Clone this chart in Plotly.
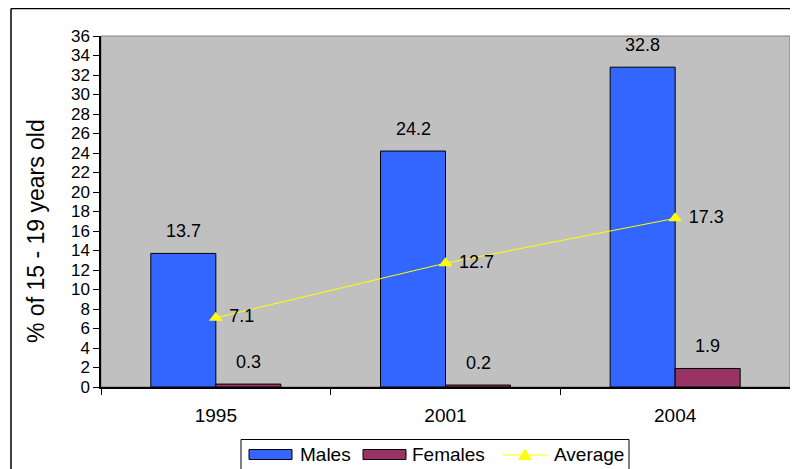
import plotly.graph_objects as go

years = ["1995", "2001", "2004"]
males = [13.7, 24.2, 32.8]
females = [0.3, 0.2, 1.9]
average = [7.1, 12.7, 17.3]
y_ticks = list(range(0, 37, 2))
legend_names = ["Males", "Females", "Average"]

FONT = "Liberation Sans, Arial, sans-serif"
C_MALE, C_FEMALE, C_AVG = "#3366FF", "#993366", "#FFFF00"

# page-pixel -> paper helpers (figure starts 8px into the page)
L, T, PW, PH = 93, 28, 689, 351
def px(x):
    return (x - 8 - L) / PW
def py(y):
    return (T + PH - (y - 8)) / PH

fig = go.Figure()
fig.add_trace(go.Bar(
    name=legend_names[0], x=years, y=males,
    marker=dict(color=C_MALE, line=dict(color="#000000", width=1)),
))
fig.add_trace(go.Bar(
    name=legend_names[1], x=years, y=females,
    marker=dict(color=C_FEMALE, line=dict(color="#000000", width=1)),
))
fig.add_trace(go.Scatter(
    name=legend_names[2], x=years, y=average, mode="lines+markers+text",
    line=dict(color=C_AVG, width=1),
    marker=dict(symbol="triangle-up", size=12, color=C_AVG),
    text=[f" {v}" for v in average], textposition="middle right",
    textfont=dict(size=18, color="#000000", family=FONT), cliponaxis=False,
))

annotations = []
for series, shift in ((males, -32.5), (females, 32.5)):
    for i, v in enumerate(series):
        annotations.append(dict(x=i, y=v, xref="x", yref="y", text=f"{v}",
                                showarrow=False, xshift=shift, yshift=10,
                                xanchor="center", yanchor="bottom",
                                font=dict(size=18, family=FONT, color="#000000")))
annotations.append(dict(text="% of 15 - 19 years old", xref="paper", yref="paper",
                        x=px(36), y=py(231), xanchor="center", yanchor="middle",
                        textangle=-90, showarrow=False,
                        font=dict(size=23, family=FONT, color="#000000")))
# custom legend texts
for name, xl in zip(legend_names, (298, 410, 552)):
    annotations.append(dict(text=name, xref="paper", yref="paper", x=px(xl), y=py(454),
                            xanchor="left", yanchor="middle", showarrow=False,
                            font=dict(size=19, family=FONT, color="#000000")))

shapes = [
    dict(type="rect", xref="paper", yref="paper", x0=0, x1=1, y0=0, y1=1,
         line=dict(color="#808080", width=1), fillcolor="rgba(0,0,0,0)", layer="below"),
    dict(type="line", xref="paper", yref="paper", x0=px(11), x1=1.02, y0=py(8.5), y1=py(8.5),
         line=dict(color="#000000", width=1.5)),
    dict(type="line", xref="paper", yref="paper", x0=px(11), x1=px(11), y0=py(8.5), y1=py(480),
         line=dict(color="#000000", width=1.5)),
    # legend box
    dict(type="rect", xref="paper", yref="paper", x0=px(241), x1=px(629), y0=py(439.5), y1=py(490),
         line=dict(color="#000000", width=1), fillcolor="#FFFFFF"),
    dict(type="rect", xref="paper", yref="paper", x0=px(249), x1=px(292), y0=py(449.5), y1=py(459.5),
         line=dict(color="#000000", width=1), fillcolor=C_MALE),
    dict(type="rect", xref="paper", yref="paper", x0=px(363), x1=px(406), y0=py(449.5), y1=py(459.5),
         line=dict(color="#000000", width=1), fillcolor=C_FEMALE),
    dict(type="line", xref="paper", yref="paper", x0=px(503), x1=px(548), y0=py(455), y1=py(455),
         line=dict(color=C_AVG, width=1)),
    dict(type="path", xref="paper", yref="paper",
         path=f"M {px(519):.5f},{py(459.5):.5f} L {px(531):.5f},{py(459.5):.5f} L {px(525):.5f},{py(449.5):.5f} Z",
         line=dict(color=C_AVG, width=1), fillcolor=C_AVG),
]

fig.update_layout(
    width=790, height=461,
    margin=dict(l=L, r=8, t=T, b=82, autoexpand=False),
    paper_bgcolor="#FFFFFF", plot_bgcolor="#C0C0C0",
    font=dict(family=FONT, size=17, color="#000000"),
    barmode="group", bargap=0.434, bargroupgap=0,
    showlegend=False,
    shapes=shapes, annotations=annotations,
)
fig.update_xaxes(
    type="category", categoryorder="array", categoryarray=years,
    range=[-0.5, len(years) - 0.5],
    showline=True, linecolor="#000000", linewidth=1.5,
    ticks="outside", tickson="boundaries", ticklen=6, tickcolor="#000000",
    tickfont=dict(size=19, family=FONT), showgrid=False, zeroline=False,
    ticklabelstandoff=10, automargin=False,
)
fig.update_yaxes(
    range=[0, 36], tickvals=y_ticks, ticktext=[str(v) for v in y_ticks],
    showline=True, linecolor="#000000", linewidth=1.5,
    ticks="outside", ticklen=6, tickcolor="#000000",
    tickfont=dict(size=17, family=FONT), showgrid=False, zeroline=False,
    automargin=False,
)

fig.write_html("out.html")
